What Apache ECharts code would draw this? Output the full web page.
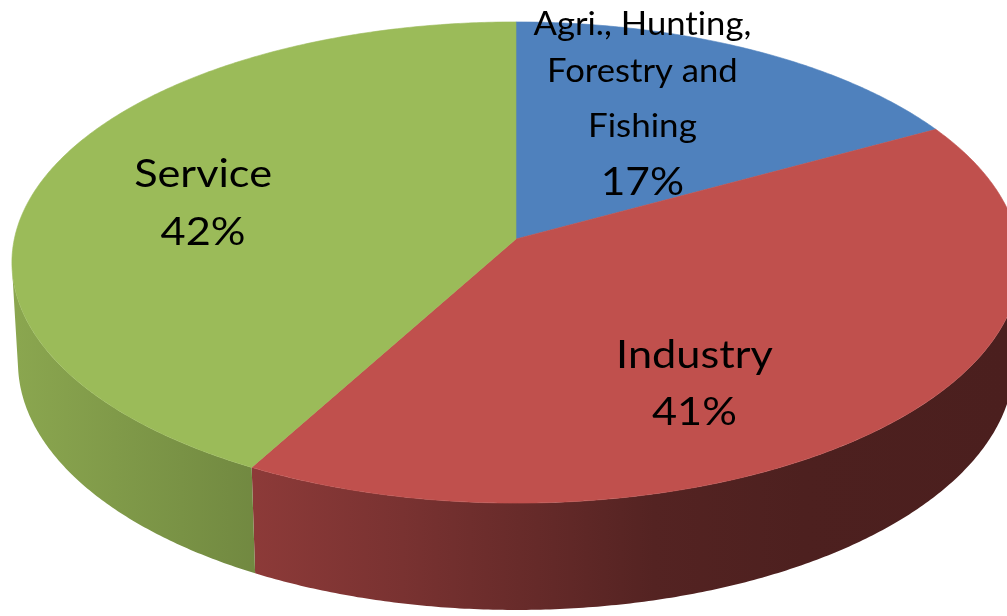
<!DOCTYPE html>
<html><head><meta charset="utf-8">
<script src="https://cdn.jsdelivr.net/npm/echarts@6/dist/echarts.min.js"></script>
<style>html,body{margin:0;padding:0;background:#fff}#c{width:1007px;height:616px}</style>
</head><body><div id="c"></div>
<script>
// ---- data ----
const categories = ['Agri., Hunting, Forestry and Fishing', 'Industry', 'Service'];
const values = [17, 41, 42];
const nameLines = [['Agri., Hunt\u200Cing,', 'Forestry and', 'Fishing'], ['Industry'], ['Service']];

// ---- style / layout ----
const colors = ['#4F81BD', '#C0504D', '#9BBB59'];
const CX = 516, CY = 239, F = 4515, D = 9.0, S = 0.475, C = Math.sqrt(1 - S * S), H = 0.2285;
const labelLayout = [
  {dx: -31, dy: -8, lines: [{size: 33, sx: 1.05, dy: -80}, {size: 33, sx: 1.05, dy: -33.7}, {size: 33, sx: 1.06, dy: 22}, {size: 39, sx: 1.09, dy: 77.5}]},
  {dx: -63, dy: 31, lines: [{size: 39, sx: 1.11, dy: -29}, {size: 39, sx: 1.11, dy: 27.5}]},
  {dx: -2, dy: 3, lines: [{size: 39, sx: 1.11, dy: -29.5}, {size: 39, sx: 1.11, dy: 28}]}
];
const shadeStops = [[0, 0.9], [0.18, 0.78], [0.4, 0.63], [0.65, 0.44], [0.8, 0.40], [1, 0.39]];

function proj(X, Y, Z) {
  const v = Y * S + Z * C;
  const d = D + Y * C - Z * S;
  return [CX + F * X / d, CY - F * v / d];
}
function rim(t, Z, r) { r = (r == null) ? 1 : r; return proj(r * Math.sin(t), r * Math.cos(t), Z); }
function shade(hex, f) {
  const n = parseInt(hex.slice(1), 16);
  const r = Math.round(((n >> 16) & 255) * f), g = Math.round(((n >> 8) & 255) * f), b = Math.round((n & 255) * f);
  return 'rgb(' + r + ',' + g + ',' + b + ')';
}
const total = values.reduce((a, b) => a + b, 0);
const starts = []; let acc = 0;
values.forEach(v => { starts.push(acc / total * 2 * Math.PI); acc += v; });
const visA = Math.acos(-1 / (D * C)), visB = 2 * Math.PI - visA;

function arcPts(a, b, Z) {
  const n = Math.max(2, Math.ceil((b - a) / (Math.PI / 360)));
  const pts = [];
  for (let k = 0; k <= n; k++) pts.push(rim(a + (b - a) * k / n, Z));
  return pts;
}

function renderItem(params, api) {
  const i = params.dataIndex;
  const v = api.value(0);
  const a = starts[i], b = a + v / total * 2 * Math.PI;
  const col = colors[i];
  const children = [];
  // outer wall (visible part)
  const lo = Math.max(a, visA), hi = Math.min(b, visB);
  if (lo < hi) {
    const top = arcPts(lo, hi, 0), bot = arcPts(lo, hi, -H).reverse();
    children.push({
      type: 'polygon', shape: {points: top.concat(bot)},
      style: {
        fill: {type: 'linear', x: 0, y: 0, x2: 1007, y2: 0, global: true,
          colorStops: shadeStops.map(s => ({offset: s[0], color: shade(col, s[1])}))},
        stroke: null
      }
    });
  }
  // top face
  const pts = [proj(0, 0, 0)].concat(arcPts(a, b, 0));
  children.push({type: 'polygon', shape: {points: pts}, style: {fill: col, stroke: col, lineWidth: 0.6}});
  // labels
  const mid = (a + b) / 2;
  const anchor = rim(mid, 0, 0.65);
  const L = labelLayout[i];
  const pct = Math.round(v / total * 100) + '%';
  const lines = nameLines[i].concat([pct]);
  lines.forEach((t, k) => {
    const ln = L.lines[k];
    children.push({
      type: 'text', z2: 100,
      x: anchor[0] + L.dx, y: anchor[1] + L.dy + ln.dy, scaleX: ln.sx, scaleY: 1,
      style: {text: t, x: 0, y: 0,
        fill: '#000', font: ln.size + 'px Lato', align: 'center', verticalAlign: 'middle'}
    });
  });
  return {type: 'group', children: children};
}

const chart = echarts.init(document.getElementById('c'), null, {renderer: 'canvas'});
chart.setOption({
  backgroundColor: '#fff',
  animation: false,
  series: [{
    type: 'custom', coordinateSystem: 'none', silent: true,
    renderItem: renderItem,
    data: values.map((v, i) => ({value: [v], name: categories[i]}))
  }]
});
</script></body></html>
